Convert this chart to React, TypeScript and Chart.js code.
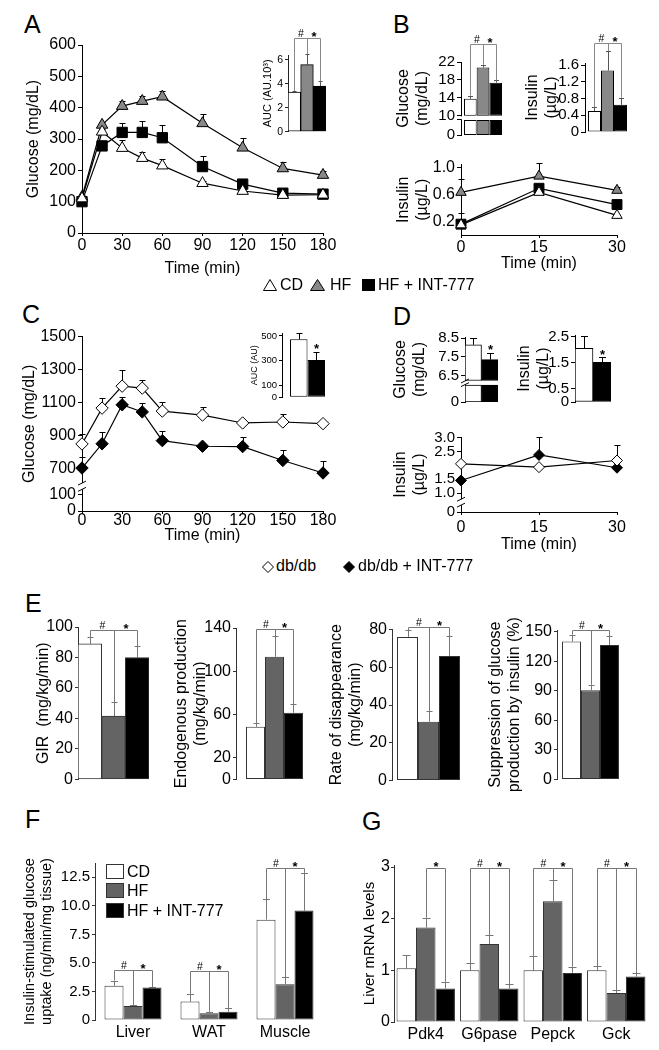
import React, { useEffect, useRef } from 'react';
import { Chart, registerables } from 'chart.js';

Chart.register(...registerables);
const FONT = '"Liberation Sans", Arial, Helvetica, sans-serif';
Chart.defaults.font.family = FONT;
Chart.defaults.color = '#000';

// ---------------- DATA ----------------
// Panel A (oral glucose tolerance, mg/dL)
const timeOGTT = [0, 15, 30, 45, 60, 90, 120, 150, 180];
const ticksTimeOGTT = [0, 30, 60, 90, 120, 150, 180];
const glucoseCD = [110, 323, 271, 239, 215, 159, 134, 121, 122];
const glucoseCDErr = [0, 8, 25, 20, 20, 8, 8, 5, 0];
const glucoseHF = [115, 345, 405, 421, 435, 350, 272, 206, 185];
const glucoseHFErr = [0, 10, 15, 15, 18, 30, 30, 20, 12];
const glucoseHFINT = [100, 278, 321, 321, 304, 212, 156, 127, 124];
const glucoseHFINTErr = [0, 10, 30, 35, 40, 35, 15, 5, 0];
const ticksGlucoseA = [0, 100, 200, 300, 400, 500, 600];
const groupsDiet = ['CD', 'HF', 'HF + INT-777'];
const aucA = [3.3, 5.6, 3.8];
const aucAErr = [0.1, 0.9, 0.4];
const ticksAucA = [0, 2, 4, 6];

// Panel B
const fastGlucoseB = [13.8, 20.8, 17.4];
const fastGlucoseBErr = [0.7, 0.6, 0.5];
const ticksFastGlucoseB = [0, 10, 14, 18, 22];
const fastInsulinB = [0.5, 1.47, 0.65];
const fastInsulinBErr = [0.09, 0.47, 0.17];
const ticksFastInsulinB = [0, 0.4, 0.8, 1.2, 1.6];
const timeInsulin = [0, 15, 30];
const insulinCD = [0.15, 0.63, 0.29];
const insulinCDErr = [0.17, 0.03, 0];
const insulinHF = [0.63, 0.87, 0.66];
const insulinHFErr = [0.2, 0.19, 0.05];
const insulinHFINT = [0.16, 0.69, 0.45];
const insulinHFINTErr = [0.05, 0.03, 0];
const ticksInsulinB = [0.2, 0.6, 1.0];

// Panel C (db/db)
const groupsDb = ['db/db', 'db/db + INT-777'];
const glucoseDb = [850, 1067, 1200, 1188, 1049, 1025, 977, 983, 973];
const glucoseDbErr = [60, 60, 95, 47, 57, 50, 0, 48, 0];
const glucoseDbINT = [704, 851, 1087, 1044, 870, 836, 834, 750, 674];
const glucoseDbINTErr = [70, 70, 45, 51, 60, 0, 57, 62, 74];
const ticksGlucoseC = [0, 100, 700, 900, 1100, 1300, 1500];
const aucC = [473, 304];
const aucCErr = [53, 66];
const ticksAucC = [0, 100, 300, 500];

// Panel D
const fastGlucoseD = [8.15, 7.35];
const fastGlucoseDErr = [0.37, 0.38];
const ticksFastGlucoseD = [0, 6.5, 7.5, 8.5];
const fastInsulinD = [2.06, 1.52];
const fastInsulinDErr = [0.49, 0.19];
const ticksFastInsulinD = [0, 0.5, 1.5, 2.5];
const insulinDb = [2.06, 1.94, 2.18];
const insulinDbErr = [0.05, 0, 0.56];
const insulinDbINT = [1.46, 2.38, 1.92];
const insulinDbINTErr = [0.05, 0.65, 0];
const ticksInsulinD = [0, 1.0, 1.5, 2.5, 3.0];

// Panel E (clamp)
const girE = [89, 41.5, 80];
const girEErr = [4.5, 9, 7.5];
const egpE = [48.6, 113.4, 61.7];
const egpEErr = [3.2, 19, 8];
const rdE = [76.2, 31.2, 66];
const rdEErr = [3.5, 5.8, 10.5];
const suppE = [140, 90.6, 136.5];
const suppEErr = [7, 5.7, 9];

// Panel F
const tissues = ['Liver', 'WAT', 'Muscle'];
const uptakeCD = [3.0, 1.61, 8.79];
const uptakeCDErr = [0.45, 0.67, 1.8];
const uptakeHF = [1.23, 0.59, 3.13];
const uptakeHFErr = [0.1, 0.14, 0.6];
const uptakeHFINT = [2.84, 0.73, 9.58];
const uptakeHFINTErr = [0.05, 0.3, 3.3];
const ticksUptake = [0, 2.5, 5, 7.5, 10, 12.5];

// Panel G
const genes = ['Pdk4', 'G6pase', 'Pepck', 'Gck'];
const mrnaCD = [1.04, 1.0, 1.0, 1.0];
const mrnaCDErr = [0.26, 0.14, 0.28, 0.08];
const mrnaHF = [1.83, 1.51, 2.34, 0.56];
const mrnaHFErr = [0.19, 0.17, 0.4, 0.06];
const mrnaHFINT = [0.65, 0.65, 0.95, 0.88];
const mrnaHFINTErr = [0.13, 0.08, 0.12, 0.06];

// ---------------- STYLE ----------------
const GREY1 = '#888888';
const GREY2 = '#646464';
const colorsAB = ['#ffffff', GREY1, '#000000'];
const colorsEFG = ['#ffffff', GREY2, '#000000'];
const colorsDb = ['#ffffff', '#000000'];
const ident = (v: number) => v;

// axis-break transforms (lower segment squeezed under the break)
const tC = (v: number) => (v <= 100 ? v : v - 444);
const tDL = (v: number) => (v >= 1 ? v : 0.32 + v * 0.68);
const BG = { zero: 5.73, lowTop: 9.1, upStart: 10 };
const tBG = (v: number) => (v >= 10 ? v : BG.zero + v * ((BG.lowTop - BG.zero) / 10));
const DG = { zero: 5.07, lowTop: 5.98, upStart: 6.23 };
const tDG = (v: number) => (v >= DG.upStart ? v : DG.zero + v * ((DG.lowTop - DG.zero) / 6));

// ---------------- PLUGINS ----------------
const errPlugin = {
  id: 'errBars',
  beforeDatasetsDraw(chart: any) {
    const ctx = chart.ctx;
    chart.data.datasets.forEach((ds: any, di: number) => {
      if (!ds.errTop) return;
      const meta = chart.getDatasetMeta(di);
      const ys = chart.scales[meta.yAxisID];
      ctx.save();
      ctx.strokeStyle = ds.errColor || '#000';
      ctx.lineWidth = 1;
      meta.data.forEach((el: any, i: number) => {
        const t = ds.errTop[i];
        if (t == null) return;
        const x = Math.round(el.x) + 0.5;
        const y1 = Math.round(ys.getPixelForValue(t)) + 0.5;
        const cap = ds.errCap ?? 3;
        ctx.beginPath();
        ctx.moveTo(x, el.y);
        ctx.lineTo(x, y1);
        ctx.moveTo(x - cap, y1);
        ctx.lineTo(x + cap, y1);
        ctx.stroke();
      });
      ctx.restore();
    });
  },
};
Chart.register(errPlugin);

function sigLabel(ctx: any, label: string, x: number, y: number) {
  ctx.fillStyle = '#000';
  ctx.textAlign = 'center';
  ctx.textBaseline = 'alphabetic';
  if (label === '*') {
    ctx.font = `bold 13px ${FONT}`;
    ctx.fillText('*', x, y + 2.5);
  } else {
    ctx.font = `10.5px ${FONT}`;
    ctx.fillText(label, x, y - 2);
  }
}

function sigPlugin(items: any[], color: string) {
  return {
    id: 'sig',
    afterDatasetsDraw(chart: any) {
      const ctx = chart.ctx;
      const ys = chart.scales.y;
      const top = (ref: number[]) => {
        const el = chart.getDatasetMeta(ref[0]).data[ref[1]];
        const ds = chart.data.datasets[ref[0]];
        let y = el.y;
        if (ds.errTop && ds.errTop[ref[1]] != null) y = Math.min(y, ys.getPixelForValue(ds.errTop[ref[1]]));
        return { x: Math.round(el.x) + 0.5, y };
      };
      ctx.save();
      ctx.lineWidth = 1;
      ctx.strokeStyle = color;
      for (const it of items) {
        const a = top(it.a);
        if (it.b) {
          const b = top(it.b);
          const yy = Math.round(ys.getPixelForValue(it.y)) + 0.5;
          ctx.beginPath();
          ctx.moveTo(a.x, a.y);
          ctx.lineTo(a.x, yy);
          ctx.lineTo(b.x, yy);
          ctx.lineTo(b.x, b.y);
          ctx.stroke();
          sigLabel(ctx, it.label, (a.x + b.x) / 2, yy);
        } else {
          sigLabel(ctx, it.label, a.x, a.y - 1);
        }
      }
      ctx.restore();
    },
  };
}

function breakPlugin(lo: number, hi: number, kind: string) {
  return {
    id: 'axisBreak',
    afterDraw(chart: any) {
      const ctx = chart.ctx;
      const ys = chart.scales.y;
      const x = chart.chartArea.left;
      const pLo = ys.getPixelForValue(lo);
      const pHi = ys.getPixelForValue(hi);
      ctx.save();
      ctx.fillStyle = '#fff';
      ctx.fillRect(x - 1.5, pHi + 0.5, 3, pLo - pHi - 1);
      ctx.strokeStyle = '#000';
      ctx.lineWidth = 1;
      if (kind === 'slash') {
        for (const p of [pHi + 0.5, pLo - 0.5]) {
          ctx.beginPath();
          ctx.moveTo(x - 4, p + 2);
          ctx.lineTo(x + 4, p - 2);
          ctx.stroke();
        }
      } else {
        const p = Math.round(pLo) - 0.5;
        ctx.beginPath();
        ctx.moveTo(x - 4, p);
        ctx.lineTo(x + 0.5, p);
        ctx.stroke();
      }
      ctx.restore();
    },
  };
}

// ---------------- BUILDERS ----------------
function yAxis(o: any) {
  const ticks = o.ticks as number[];
  const labels = o.labels || ticks.map(String);
  const axis = o.axis || '#000';
  return {
    type: 'linear',
    min: o.min,
    max: o.max,
    beginAtZero: false,
    stacked: false,
    afterBuildTicks: (s: any) => {
      s.ticks = ticks.map((v) => ({ value: v }));
    },
    ticks: {
      autoSkip: false,
      padding: o.pad ?? 2,
      font: { size: o.size, family: FONT },
      color: '#000',
      callback: (_v: any, i: number) => labels[i],
    },
    grid: { display: true, drawOnChartArea: false, drawTicks: true, tickLength: o.tl ?? 4, color: axis, lineWidth: 1 },
    border: { display: true, color: axis, width: 1 },
    title: o.title
      ? { display: true, text: o.title, font: { size: o.tsize || o.size, family: FONT }, color: '#000', padding: { top: 4, bottom: 4 } }
      : { display: false },
  };
}

function xLinear(o: any) {
  const ticks = o.ticks as number[];
  return {
    type: 'linear',
    min: o.min,
    max: o.max,
    afterBuildTicks: (s: any) => {
      s.ticks = ticks.map((v) => ({ value: v }));
    },
    ticks: { autoSkip: false, maxRotation: 0, padding: o.pad ?? 0, font: { size: o.size, family: FONT }, color: '#000' },
    grid: { display: true, drawOnChartArea: false, drawTicks: true, tickLength: o.tl ?? 3, color: '#000' },
    border: { display: true, color: '#000', width: 1 },
    title: { display: true, text: 'Time (min)', font: { size: o.size, family: FONT }, color: '#000', padding: { top: 4, bottom: 4 } },
  };
}

function xCat(o: any) {
  return {
    type: 'category',
    display: !!o.show,
    grid: { display: false, drawTicks: false },
    border: { display: false },
    ticks: { autoSkip: false, maxRotation: 0, padding: o.pad ?? 3, font: { size: o.size || 15, family: FONT }, color: '#000' },
  };
}

function barSet(label: string, values: number[], errs: number[], color: string, o: any = {}) {
  const T = o.T || ident;
  return {
    type: 'bar',
    label,
    data: o.upStart != null ? values.map((v) => [o.upStart, T(v)]) : values.map((v) => T(v)),
    errTop: values.map((v, i) => (errs[i] ? T(v + errs[i]) : null)),
    errColor: o.errColor || '#000',
    errCap: o.errCap ?? 3,
    backgroundColor: color,
    borderColor: o.border || '#000',
    borderWidth: 1,
    borderSkipped: false,
    categoryPercentage: o.catPct ?? 1,
    barPercentage: 1,
    stack: o.stack,
  };
}

function lowerSet(label: string, n: number, color: string, lo: number, hi: number, o: any = {}) {
  return {
    type: 'bar',
    label: label + ' (below break)',
    data: Array.from({ length: n }, () => [lo, hi]),
    backgroundColor: color,
    borderColor: o.border || '#000',
    borderWidth: 1,
    borderSkipped: false,
    categoryPercentage: o.catPct ?? 1,
    barPercentage: 1,
    stack: label,
  };
}

function lineSet(label: string, xs: number[], ys: number[], errs: number[], style: string, r: number, fill: string, T = ident) {
  return {
    label,
    data: xs.map((x, i) => ({ x, y: T(ys[i]) })),
    errTop: ys.map((v, i) => (errs[i] ? T(v + errs[i]) : null)),
    errColor: '#000',
    errCap: 3,
    borderColor: '#000',
    borderWidth: 1.2,
    backgroundColor: fill,
    pointStyle: style,
    pointRadius: r,
    pointHoverRadius: r,
    pointBackgroundColor: fill,
    pointBorderColor: '#000',
    pointBorderWidth: 1,
    tension: 0,
    fill: false,
    clip: false,
  };
}

// ---------------- CHART CONFIGS ----------------
const cfgA = () => ({
  type: 'line',
  data: {
    datasets: [
      lineSet('CD', timeOGTT, glucoseCD, glucoseCDErr, 'triangle', 6.6, '#fff'),
      lineSet('HF', timeOGTT, glucoseHF, glucoseHFErr, 'triangle', 6.6, GREY1),
      lineSet('HF + INT-777', timeOGTT, glucoseHFINT, glucoseHFINTErr, 'rect', 7.3, '#000'),
    ],
  },
  options: {
    scales: {
      x: xLinear({ min: 0, max: 180, ticks: ticksTimeOGTT, size: 16, pad: 0 }),
      y: yAxis({ min: 0, max: 600, ticks: ticksGlucoseA, size: 16, title: 'Glucose (mg/dL)' }),
    },
  },
});

const cfgAucA = () => ({
  type: 'bar',
  data: {
    labels: ['AUC'],
    datasets: groupsDiet.map((g, i) => barSet(g, [aucA[i]], [aucAErr[i]], colorsAB[i], { errColor: '#555', errCap: 2 })),
  },
  options: {
    scales: {
      x: xCat({ show: false }),
      y: yAxis({ min: 0, max: 6.4, ticks: ticksAucA, size: 10.5, tsize: 11, title: 'AUC (AU.10³)', tl: 3, axis: '#222' }),
    },
  },
  plugins: [
    sigPlugin(
      [
        { a: [0, 0], b: [1, 0], y: 7.8, label: '#' },
        { a: [1, 0], b: [2, 0], y: 7.8, label: '*' },
      ],
      '#888'
    ),
  ],
});

const cfgGluB = () => ({
  type: 'bar',
  data: {
    labels: ['Glucose'],
    datasets: [
      ...groupsDiet.map((g, i) =>
        barSet(g, [fastGlucoseB[i]], [fastGlucoseBErr[i]], colorsAB[i], { catPct: 0.864, upStart: BG.upStart, stack: g, errColor: '#555', errCap: 2.5 })
      ),
      ...groupsDiet.map((g, i) => lowerSet(g, 1, colorsAB[i], BG.zero, BG.lowTop, { catPct: 0.864 })),
    ],
  },
  options: {
    scales: {
      x: xCat({ show: false }),
      y: yAxis({ min: BG.zero, max: 22, ticks: ticksFastGlucoseB.map(tBG), labels: ticksFastGlucoseB.map(String), size: 15, tsize: 16, title: ['Glucose', '(mg/dL)'] }),
    },
  },
  plugins: [
    sigPlugin(
      [
        { a: [0, 0], b: [1, 0], y: 26, label: '#' },
        { a: [1, 0], b: [2, 0], y: 26, label: '*' },
      ],
      '#888'
    ),
    breakPlugin(BG.lowTop, BG.upStart, 'bracket'),
  ],
});

const cfgInsB = () => ({
  type: 'bar',
  data: {
    labels: ['Insulin'],
    datasets: groupsDiet.map((g, i) => barSet(g, [fastInsulinB[i]], [fastInsulinBErr[i]], colorsAB[i], { catPct: 0.867, errColor: '#555', errCap: 2.5 })),
  },
  options: {
    scales: {
      x: xCat({ show: false }),
      y: yAxis({ min: 0, max: 1.65, ticks: ticksFastInsulinB, labels: ['0', '0.4', '0.8', '1.2', '1.6'], size: 15, tsize: 16, title: ['Insulin', '(µg/L)'] }),
    },
  },
  plugins: [
    sigPlugin(
      [
        { a: [0, 0], b: [1, 0], y: 2.13, label: '#' },
        { a: [1, 0], b: [2, 0], y: 2.13, label: '*' },
      ],
      '#888'
    ),
  ],
});

const cfgInsLineB = () => ({
  type: 'line',
  data: {
    datasets: [
      lineSet('CD', timeInsulin, insulinCD, insulinCDErr, 'triangle', 6, '#fff'),
      lineSet('HF', timeInsulin, insulinHF, insulinHFErr, 'triangle', 6, GREY1),
      lineSet('HF + INT-777', timeInsulin, insulinHFINT, insulinHFINTErr, 'rect', 7, '#000'),
    ],
  },
  options: {
    scales: {
      x: xLinear({ min: 0, max: 30, ticks: timeInsulin, size: 16, pad: 0 }),
      y: yAxis({ min: 0, max: 1.04, ticks: ticksInsulinB, labels: ['0.2', '0.6', '1.0'], size: 16, title: ['Insulin', '(µg/L)'] }),
    },
  },
});

const cfgC = () => ({
  type: 'line',
  data: {
    datasets: [
      lineSet('db/db', timeOGTT, glucoseDb, glucoseDbErr, 'rectRot', 6.2, '#fff', tC),
      lineSet('db/db + INT-777', timeOGTT, glucoseDbINT, glucoseDbINTErr, 'rectRot', 6.2, '#000', tC),
    ],
  },
  options: {
    scales: {
      x: xLinear({ min: 0, max: 180, ticks: ticksTimeOGTT, size: 16, pad: -3 }),
      y: yAxis({ min: 0, max: tC(1500), ticks: ticksGlucoseC.map(tC), labels: ticksGlucoseC.map(String), size: 16, title: 'Glucose (mg/dL)' }),
    },
  },
  plugins: [breakPlugin(128, 172, 'slash')],
});

const cfgAucC = () => ({
  type: 'bar',
  data: {
    labels: ['AUC'],
    datasets: groupsDb.map((g, i) => barSet(g, [aucC[i]], [aucCErr[i]], colorsDb[i], { catPct: 0.686, errCap: 3 })),
  },
  options: {
    scales: {
      x: xCat({ show: false }),
      y: yAxis({ min: 0, max: 524, ticks: ticksAucC, size: 9.5, tsize: 9, title: 'AUC (AU)', tl: 3 }),
    },
  },
  plugins: [sigPlugin([{ a: [1, 0], label: '*' }], '#000')],
});

const cfgGluD = () => ({
  type: 'bar',
  data: {
    labels: ['Glucose'],
    datasets: [
      ...groupsDb.map((g, i) => barSet(g, [fastGlucoseD[i]], [fastGlucoseDErr[i]], colorsDb[i], { upStart: DG.upStart, stack: g, errCap: 3.5 })),
      ...groupsDb.map((g, i) => lowerSet(g, 1, colorsDb[i], DG.zero, DG.lowTop)),
    ],
  },
  options: {
    scales: {
      x: xCat({ show: false }),
      y: yAxis({ min: DG.zero, max: 8.57, ticks: ticksFastGlucoseD.map(tDG), labels: ['0', '6.5', '7.5', '8.5'], size: 15, tsize: 16, title: ['Glucose', '(mg/dL)'] }),
    },
  },
  plugins: [sigPlugin([{ a: [1, 0], label: '*' }], '#000'), breakPlugin(DG.lowTop, DG.upStart, 'slash')],
});

const cfgInsD = () => ({
  type: 'bar',
  data: {
    labels: ['Insulin'],
    datasets: groupsDb.map((g, i) => barSet(g, [fastInsulinD[i]], [fastInsulinDErr[i]], colorsDb[i], { errCap: 3.5 })),
  },
  options: {
    scales: {
      x: xCat({ show: false }),
      y: yAxis({ min: 0, max: 2.57, ticks: ticksFastInsulinD, labels: ['0', '0.5', '1.5', '2.5'], size: 15, tsize: 16, title: ['Insulin', '(µg/L)'] }),
    },
  },
  plugins: [sigPlugin([{ a: [1, 0], label: '*' }], '#000')],
});

const cfgInsLineD = () => ({
  type: 'line',
  data: {
    datasets: [
      lineSet('db/db', timeInsulin, insulinDb, insulinDbErr, 'rectRot', 5.5, '#fff', tDL),
      lineSet('db/db + INT-777', timeInsulin, insulinDbINT, insulinDbINTErr, 'rectRot', 5.5, '#000', tDL),
    ],
  },
  options: {
    scales: {
      x: xLinear({ min: 0, max: 30, ticks: timeInsulin, size: 16, pad: 3 }),
      y: yAxis({ min: tDL(0), max: 3.03, ticks: ticksInsulinD.map(tDL), labels: ['0', '1.0', '1.5', '2.5', '3.0'], size: 15, tsize: 16, title: ['Insulin', '(µg/L)'] }),
    },
  },
  plugins: [breakPlugin(0.55, 0.8, 'slash')],
});

function cfgE(values: number[], errs: number[], o: any) {
  return () => ({
    type: 'bar',
    data: {
      labels: [''],
      datasets: groupsDiet.map((g, i) =>
        barSet(g, [values[i]], [errs[i]], colorsEFG[i], { catPct: o.catPct, border: '#333', errColor: '#777', errCap: 3 })
      ),
    },
    options: {
      scales: {
        x: xCat({ show: false }),
        y: yAxis({ min: 0, max: o.max, ticks: o.ticks, size: 16, title: o.title, tl: 3, pad: 2, axis: '#333' }),
      },
    },
    plugins: [
      sigPlugin(
        [
          { a: [0, 0], b: [1, 0], y: o.sigY, label: '#' },
          { a: [1, 0], b: [2, 0], y: o.sigY, label: '*' },
        ],
        '#777'
      ),
    ],
  });
}
const cfgE1 = cfgE(girE, girEErr, { catPct: 1, max: 100, ticks: [0, 20, 40, 60, 80, 100], title: 'GIR  (mg/kg/min)', sigY: 98 });
const cfgE2 = cfgE(egpE, egpEErr, { catPct: 0.74, max: 140, ticks: [0, 20, 60, 100, 140], title: ['Endogenous production', '(mg/kg/min)'], sigY: 138.9 });
const cfgE3 = cfgE(rdE, rdEErr, { catPct: 0.863, max: 80.4, ticks: [0, 20, 40, 60, 80], title: ['Rate of disappearance', '(mg/kg/min)'], sigY: 81.6 });
const cfgE4 = cfgE(suppE, suppEErr, { catPct: 0.85, max: 151.7, ticks: [0, 30, 60, 90, 120, 150], title: ['Suppression of glucose', 'production by insulin (%)'], sigY: 151.7 });

const cfgF = () => ({
  type: 'bar',
  data: {
    labels: tissues,
    datasets: [
      barSet('CD', uptakeCD, uptakeCDErr, colorsEFG[0], { catPct: 0.75, border: '#333', errColor: '#777', errCap: 3.5 }),
      barSet('HF', uptakeHF, uptakeHFErr, colorsEFG[1], { catPct: 0.75, border: '#333', errColor: '#777', errCap: 3.5 }),
      barSet('HF + INT-777', uptakeHFINT, uptakeHFINTErr, colorsEFG[2], { catPct: 0.75, border: '#333', errColor: '#777', errCap: 3.5 }),
    ],
  },
  options: {
    scales: {
      x: xCat({ show: true, size: 16, pad: 3 }),
      y: yAxis({ min: 0, max: 13.75, ticks: ticksUptake, labels: ['0', '2.5', '5.0', '7.5', '10.0', '12.5'], size: 15, tsize: 14.5, title: ['Insulin-stimulated glucose', 'uptake (ng/min/mg tissue)'], tl: 3, axis: '#333' }),
    },
  },
  plugins: [
    sigPlugin(
      [
        { a: [0, 0], b: [1, 0], y: 4.39, label: '#' },
        { a: [1, 0], b: [2, 0], y: 4.39, label: '*' },
        { a: [0, 1], b: [1, 1], y: 4.25, label: '#' },
        { a: [1, 1], b: [2, 1], y: 4.25, label: '*' },
        { a: [0, 2], b: [1, 2], y: 13.3, label: '#' },
        { a: [1, 2], b: [2, 2], y: 13.3, label: '*' },
      ],
      '#777'
    ),
  ],
});

const cfgG = () => ({
  type: 'bar',
  data: {
    labels: genes,
    datasets: [
      barSet('CD', mrnaCD, mrnaCDErr, colorsEFG[0], { catPct: 0.92, border: '#333', errColor: '#777', errCap: 4 }),
      barSet('HF', mrnaHF, mrnaHFErr, colorsEFG[1], { catPct: 0.92, border: '#333', errColor: '#777', errCap: 4 }),
      barSet('HF + INT-777', mrnaHFINT, mrnaHFINTErr, colorsEFG[2], { catPct: 0.92, border: '#333', errColor: '#777', errCap: 4 }),
    ],
  },
  options: {
    scales: {
      x: xCat({ show: true, size: 16, pad: 3 }),
      y: yAxis({ min: 0, max: 3.04, ticks: [0, 1, 2, 3], size: 16, tsize: 15, title: 'Liver mRNA levels', tl: 3, pad: 1, axis: '#333' }),
    },
  },
  plugins: [
    sigPlugin(
      [
        { a: [1, 0], b: [2, 0], y: 2.98, label: '*' },
        { a: [0, 1], b: [1, 1], y: 2.98, label: '#' },
        { a: [1, 1], b: [2, 1], y: 2.98, label: '*' },
        { a: [0, 2], b: [1, 2], y: 2.98, label: '#' },
        { a: [1, 2], b: [2, 2], y: 2.98, label: '*' },
        { a: [0, 3], b: [1, 3], y: 2.98, label: '#' },
        { a: [1, 3], b: [2, 3], y: 2.98, label: '*' },
      ],
      '#777'
    ),
  ],
});

// ---------------- COMPONENTS ----------------
function ChartCanvas({ plot, pad, config }: any) {
  const ref = useRef<HTMLCanvasElement>(null);
  const w = plot[2] - plot[0] + pad[0] + pad[2];
  const h = plot[3] - plot[1] + pad[1] + pad[3];
  useEffect(() => {
    const cfg: any = config();
    const o = cfg.options;
    const xShown = o.scales.x.display !== false;
    o.responsive = false;
    o.maintainAspectRatio = false;
    o.animation = false;
    o.devicePixelRatio = 1;
    o.events = [];
    o.layout = { autoPadding: false, padding: { left: 0, top: pad[1], right: pad[2], bottom: xShown ? 0 : pad[3] } };
    o.plugins = { legend: { display: false }, tooltip: { enabled: false } };
    o.scales.y.afterFit = (s: any) => {
      s.width = pad[0];
    };
    if (xShown)
      o.scales.x.afterFit = (s: any) => {
        s.height = pad[3];
      };
    const chart = new Chart(ref.current as HTMLCanvasElement, cfg);
    return () => chart.destroy();
  }, []);
  return (
    <canvas
      ref={ref}
      width={w}
      height={h}
      style={{ position: 'absolute', left: plot[0] - pad[0], top: plot[1] - pad[1], width: w, height: h }}
    />
  );
}

function Txt({ x, y, size = 16, children }: any) {
  return (
    <div
      style={{
        position: 'absolute',
        left: x,
        top: y - size * 0.8465,
        fontSize: size,
        lineHeight: `${size}px`,
        whiteSpace: 'nowrap',
        fontFamily: FONT,
        color: '#000',
      }}
    >
      {children}
    </div>
  );
}

function Icon({ x, y, w, h, shape, fill }: any) {
  let el;
  if (shape === 'tri') el = <polygon points={`${w / 2},0.5 ${w - 0.5},${h - 0.5} 0.5,${h - 0.5}`} fill={fill} stroke="#000" strokeWidth={1} />;
  else if (shape === 'dia') el = <polygon points={`${w / 2},0.5 ${w - 0.5},${h / 2} ${w / 2},${h - 0.5} 0.5,${h / 2}`} fill={fill} stroke="#000" strokeWidth={1} />;
  else el = <rect x={0.5} y={0.5} width={w - 1} height={h - 1} fill={fill} stroke={shape === 'box' ? '#333' : '#000'} strokeWidth={1} />;
  return (
    <svg style={{ position: 'absolute', left: x, top: y }} width={w} height={h}>
      {el}
    </svg>
  );
}

export default function App() {
  return (
    <div style={{ position: 'absolute', left: 0, top: 0, width: 659, height: 1050, background: '#fff', overflow: 'hidden', fontFamily: FONT }}>
      {/* panel letters */}
      <Txt x={24} y={33} size={25}>A</Txt>
      <Txt x={393} y={33} size={25}>B</Txt>
      <Txt x={22} y={323} size={25}>C</Txt>
      <Txt x={393} y={325} size={25}>D</Txt>
      <Txt x={25} y={612} size={25}>E</Txt>
      <Txt x={25} y={828} size={25}>F</Txt>
      <Txt x={362} y={830} size={25}>G</Txt>

      {/* A */}
      <ChartCanvas plot={[82, 45, 323, 233]} pad={[62, 12, 16, 49]} config={cfgA} />
      <ChartCanvas plot={[288, 55, 326, 132]} pad={[31, 30, 4, 8]} config={cfgAucA} />

      {/* B */}
      <ChartCanvas plot={[461, 62, 505, 138]} pad={[71, 37, 4, 8]} config={cfgGluB} />
      <ChartCanvas plot={[585, 63, 630, 135]} pad={[66, 38, 4, 8]} config={cfgInsB} />
      <ChartCanvas plot={[461, 163, 617, 235]} pad={[71, 10, 14, 42]} config={cfgInsLineB} />

      {/* legend A/B */}
      <Icon x={263} y={279} w={14} h={12} shape="tri" fill="#fff" />
      <Txt x={280} y={291}>CD</Txt>
      <Icon x={310} y={279} w={15} h={12} shape="tri" fill={GREY1} />
      <Txt x={330} y={291}>HF</Txt>
      <Icon x={362} y={279} w={13} h={12} shape="sq" fill="#000" />
      <Txt x={378} y={291}>HF + INT-777</Txt>

      {/* C */}
      <ChartCanvas plot={[82, 335, 323, 511]} pad={[66, 10, 16, 38]} config={cfgC} />
      <ChartCanvas plot={[282, 333, 333, 399]} pad={[37, 15, 4, 6]} config={cfgAucC} />

      {/* D */}
      <ChartCanvas plot={[465, 337, 498, 407]} pad={[78, 12, 4, 6]} config={cfgGluD} />
      <ChartCanvas plot={[575, 335, 611, 407]} pad={[64, 12, 4, 6]} config={cfgInsD} />
      <ChartCanvas plot={[461, 436, 617, 512]} pad={[74, 10, 14, 46]} config={cfgInsLineD} />

      {/* legend C/D */}
      <Icon x={262} y={561} w={12} h={12} shape="dia" fill="#fff" />
      <Txt x={276} y={572}>db/db</Txt>
      <Icon x={343} y={561} w={12} h={12} shape="dia" fill="#000" />
      <Txt x={358} y={572}>db/db + INT-777</Txt>

      {/* E */}
      <ChartCanvas plot={[78, 627, 149, 783]} pad={[48, 17, 4, 8]} config={cfgE1} />
      <ChartCanvas plot={[236, 628, 313, 783]} pad={[68, 18, 4, 8]} config={cfgE2} />
      <ChartCanvas plot={[392, 629, 465, 784]} pad={[69, 19, 4, 8]} config={cfgE3} />
      <ChartCanvas plot={[557, 630, 624, 783]} pad={[75, 19, 4, 8]} config={cfgE4} />

      {/* F */}
      <ChartCanvas plot={[95, 863, 323, 1020]} pad={[78, 12, 6, 24]} config={cfgF} />
      <Icon x={106} y={864} w={18} h={15} shape="box" fill="#fff" />
      <Txt x={127} y={878}>CD</Txt>
      <Icon x={106} y={883} w={18} h={15} shape="box" fill={GREY2} />
      <Txt x={127} y={897}>HF</Txt>
      <Icon x={106} y={903} w={18} h={15} shape="box" fill="#000" />
      <Txt x={127} y={917}>HF + INT-777</Txt>

      {/* G */}
      <ChartCanvas plot={[394, 865, 648, 1022]} pad={[37, 12, 6, 24]} config={cfgG} />
    </div>
  );
}
